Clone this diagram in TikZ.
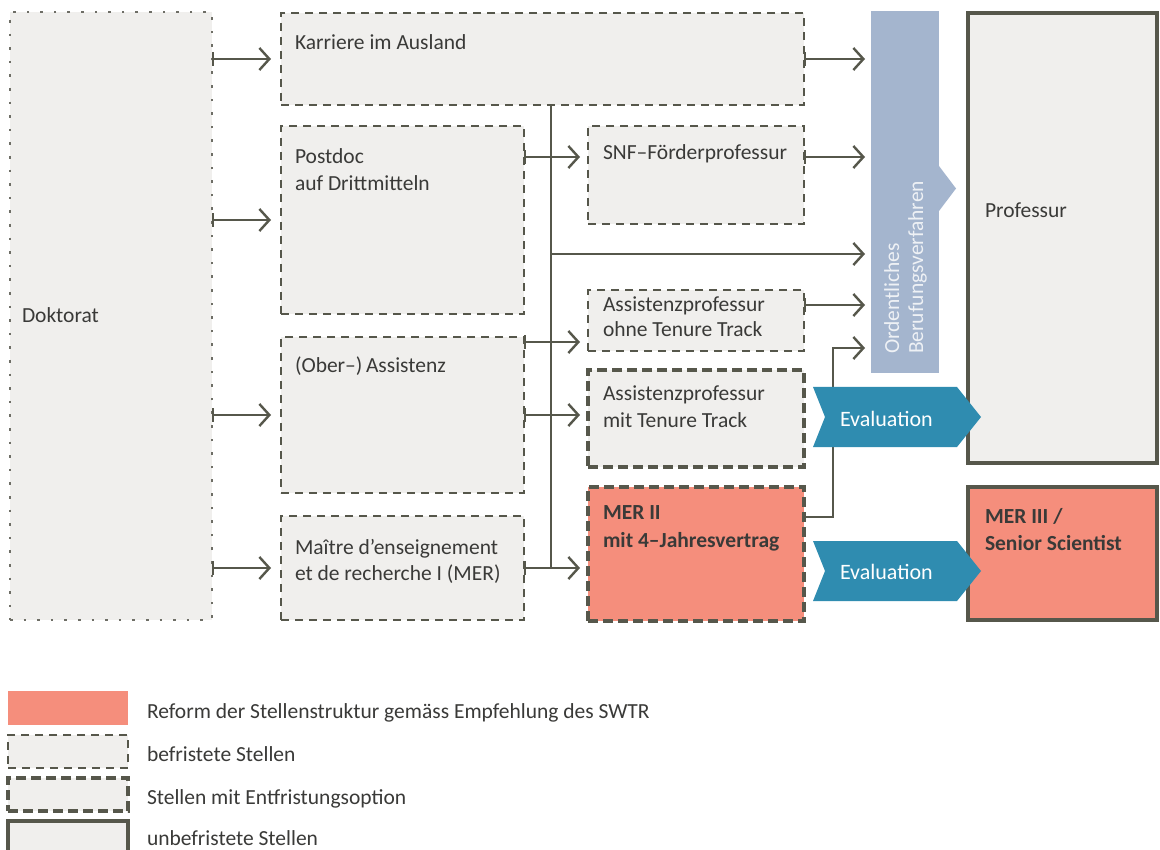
\documentclass[tikz,border=0pt]{standalone}
\usepackage{fontspec}
\setmainfont{Carlito}
\usetikzlibrary{arrows.meta}
\definecolor{boxfill}{HTML}{F0EFED}
\definecolor{linecol}{HTML}{56574B}
\definecolor{dotcol}{HTML}{6E6E66}
\definecolor{salmon}{HTML}{F58E7C}
\definecolor{banner}{HTML}{A4B5CE}
\definecolor{bantext}{HTML}{EEF1F5}
\definecolor{evalcol}{HTML}{2F8CB0}
\definecolor{textcol}{HTML}{3A3A38}
\tikzset{
  box/.style={draw=linecol, fill=boxfill, inner sep=0pt, outer sep=0pt},
  befr/.style={box, line width=2.2pt, dash pattern=on 8pt off 6pt},
  entf/.style={box, line width=3.5pt, dash pattern=on 10pt off 5pt},
  unbef/.style={box, line width=4pt},
  dotbox/.style={box, draw=dotcol, line width=2.6pt, dash pattern=on 2.6pt off 11pt},
  txt/.style={anchor=base west, inner sep=0pt, outer sep=0pt, text=textcol, font=\fontsize{21.5}{27}\selectfont},
  btxt/.style={txt, font=\fontsize{21.5}{27}\selectfont\bfseries},
  ln/.style={draw=linecol, line width=2.4pt},
  arr/.style={ln, shorten >=10pt, arrows={Bar[width=14pt,line width=2.4pt]-Straight Barb[length=10pt,width=22pt,line width=2.4pt]}},
  arrp/.style={ln, shorten >=6pt, arrows={-Straight Barb[length=10pt,width=22pt,line width=2.4pt]}},
}
\begin{document}
\begin{tikzpicture}[x=1pt,y=-1pt]
\useasboundingbox (0,0) rectangle (1160,850);
\fill[white] (0,0) rectangle (1160,850);

% row coordinates
\coordinate (trunk) at (551,0);
\coordinate (bend) at (833,0);
\coordinate (r2) at (0,157);
\coordinate (r3) at (0,254);
\coordinate (r4) at (0,305);
\coordinate (r5) at (0,342);
\coordinate (r6) at (0,348);
\coordinate (r7) at (0,415);
\coordinate (r9) at (0,517);

% boxes
\node[dotbox, minimum width=202pt, minimum height=608pt] (dok) at (111,316) {};
\node[befr, minimum width=523pt, minimum height=92pt] (karr) at (542.5,59) {};
\node[befr, minimum width=243pt, minimum height=188pt] (post) at (402.5,220) {};
\node[befr, minimum width=243pt, minimum height=156pt] (ober) at (402.5,415) {};
\node[befr, minimum width=243pt, minimum height=104pt] (mait) at (402.5,568) {};
\node[befr, minimum width=216pt, minimum height=98pt] (snf) at (696,175) {};
\node[befr, minimum width=216pt, minimum height=61pt] (ohne) at (696,320.5) {};
\node[entf, minimum width=216pt, minimum height=97pt] (mit) at (696,418.5) {};
\node[entf, fill=salmon, minimum width=216pt, minimum height=134pt] (mer2) at (696,554) {};
\node[unbef, minimum width=189pt, minimum height=450pt] (prof) at (1062.5,238) {};
\node[unbef, fill=salmon, minimum width=189pt, minimum height=133pt] (mer3) at (1062.5,553.5) {};

% banner
\node[fill=banner, inner sep=0pt, outer sep=0pt, minimum width=68pt, minimum height=362pt] (ban) at (905,192) {};
\fill[banner] (ban.east |- 0,166) -- (956,188.5) -- (ban.east |- 0,211) -- cycle;
\node[txt, text=bantext, rotate=90] (banA) at (899,354) {Ordentliches};
\node[txt, text=bantext, rotate=90] (banB) at (923,354) {Berufungsverfahren};

% texts in boxes
\node[txt] (tdok) at (22,323) {Doktorat};
\node[txt] (tkarr) at (295,50) {Karriere im Ausland};
\node[txt] (tpostA) at (295,164) {Postdoc};
\node[txt] (tpostB) at (295,191) {auf Drittmitteln};
\node[txt] (tober) at (295,373) {(Ober–)\,Assistenz};
\node[txt] (tmaitA) at (295,554) {Maître d’enseignement};
\node[txt] (tmaitB) at (295,580) {et de recherche I (MER)};
\node[txt] (tsnf) at (603,160) {SNF–Förderprofessur};
\node[txt] (tohneA) at (603,312) {Assistenzprofessur};
\node[txt] (tohneB) at (603,337) {ohne Tenure Track};
\node[txt] (tmitA) at (603,401) {Assistenzprofessur};
\node[txt] (tmitB) at (603,428) {mit Tenure Track};
\node[btxt] (tmer2A) at (603,519) {MER II};
\node[btxt] (tmer2B) at (603,547) {mit 4–Jahresvertrag};
\node[txt] (tprof) at (985,218) {Professur};
\node[btxt] (tmer3A) at (985,523) {MER III /};
\node[btxt] (tmer3B) at (985,550) {Senior Scientist};

% connectors
\draw[arr] (dok.east |- karr.west) -- (karr.west);
\draw[arr] (dok.east |- post.west) -- (post.west);
\draw[arr] (dok.east |- ober.west) -- (ober.west);
\draw[arr] (dok.east |- mait.west) -- (mait.west);
\draw[ln] (karr.south -| trunk) -- (trunk |- mait.east);
\draw[arr, shorten >=6pt] (karr.east) -- (karr.east -| ban.west);
\draw[arr, shorten >=8pt] (post.east |- r2) -- (snf.west |- r2);
\draw[arr, shorten >=6pt] (snf.east |- r2) -- (ban.west |- r2);
\draw[arrp] (trunk |- r3) -- (ban.west |- r3);
\draw[arr, shorten >=6pt] (ohne.east |- r4) -- (ban.west |- r4);
\draw[arr, shorten >=8pt] (ober.east |- r5) -- (ohne.west |- r5);
\draw[arr, shorten >=8pt] (ober.east |- r7) -- (mit.west |- r7);
\draw[arr, shorten >=8pt] (mait.east) -- (mait.east -| mer2.west);
\draw[arrp] (mer2.east |- r9) -- (bend |- r9) -- (bend |- r6) -- (ban.west |- r6);

% evaluation arrows
\fill[evalcol] (813,387) -- (957,387) -- (981,417) -- (957,447) -- (813,447) -- (825,417) -- cycle;
\node[txt, text=white, font=\fontsize{22}{27}\selectfont] (eval1) at (840,426) {Evaluation};
\fill[evalcol] (813,541) -- (957,541) -- (981,571) -- (957,601) -- (813,601) -- (825,571) -- cycle;
\node[txt, text=white, font=\fontsize{22}{27}\selectfont] (eval2) at (840,579) {Evaluation};

% legend
\node[box, draw=none, fill=salmon, minimum width=120pt, minimum height=34pt] (lg1) at (68,708) {};
\node[befr, minimum width=120pt, minimum height=33pt] (lg2) at (68,751.5) {};
\node[entf, minimum width=120pt, minimum height=33pt] (lg3) at (68,794.5) {};
\node[unbef, minimum width=120pt, minimum height=50pt] (lg4) at (68,846) {};
\node[txt] (lt1) at (147,718) {Reform der Stellenstruktur gemäss Empfehlung des SWTR};
\node[txt] (lt2) at (147,761) {befristete Stellen};
\node[txt] (lt3) at (147,804) {Stellen mit Entfristungsoption};
\node[txt] (lt4) at (147,845) {unbefristete Stellen};
\end{tikzpicture}
\end{document}
